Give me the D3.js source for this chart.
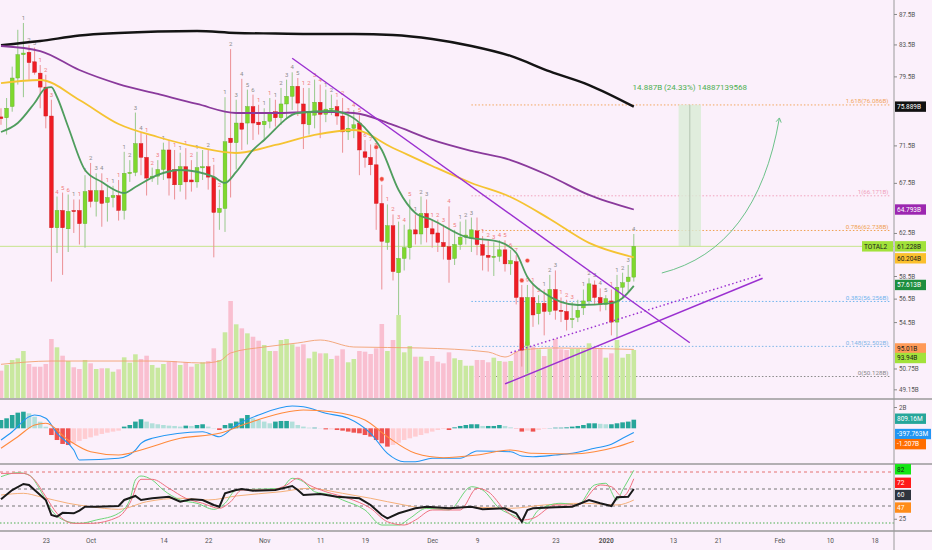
<!DOCTYPE html>
<html>
<head>
<meta charset="utf-8">
<script src="https://cdn.jsdelivr.net/npm/d3@7"></script>
<style>
html, body { margin: 0; padding: 0; background: #fbf0fb; }
svg { display: block; font-family: Roboto, "DejaVu Sans", sans-serif; }
</style>
</head>
<body>
<svg id="chart"></svg>
<script>
// ---- data (TOTAL2, billions USD, daily) ----
const firstDay = "2019-09-15";
const lastDay = "2020-01-06";

// [open, high, low, close]
const candles = [
  [74.7,75.7,73.8,74.5],[74.6,76.9,72.7,75.7],[75.9,80.7,75.3,79.3],[79.3,85.4,78.5,82.2],
  [82.2,86.3,77.0,82.4],[82.5,83.4,79.1,81.2],[81.3,83.1,79.7,80.0],[79.9,80.9,75.7,78.2],
  [78.2,79.7,73.4,74.8],[74.8,76.7,58.0,63.0],[63.0,66.1,60.6,64.7],[64.7,66.5,58.6,63.0],
  [62.9,66.3,60.7,64.6],[64.7,65.8,62.5,64.6],[64.7,65.8,61.4,63.4],[63.4,68.3,61.1,66.6],
  [66.7,69.6,65.0,65.6],[65.6,68.5,64.1,66.7],[66.7,68.5,63.1,65.4],[65.5,67.3,63.6,66.0],
  [66.0,67.2,65.0,66.2],[66.2,67.8,63.7,64.7],[64.7,70.8,63.8,68.5],[68.5,69.9,67.6,68.6],
  [68.6,75.2,68.2,71.7],[71.7,72.9,68.3,70.2],[70.2,72.7,66.2,68.0],[68.0,69.1,67.6,68.2],
  [68.2,69.9,67.3,68.9],[68.9,71.8,67.8,71.0],[71.0,72.1,66.2,68.0],[68.9,71.0,65.8,67.3],
  [67.3,70.7,66.6,69.2],[69.2,71.2,65.8,67.6],[67.8,69.9,66.6,67.6],[67.6,70.8,67.0,69.1],
  [69.1,71.0,67.8,69.2],[69.2,71.0,66.8,68.1],[68.1,69.4,60.2,64.5],[64.5,66.8,62.8,64.9],
  [64.9,77.0,62.6,71.9],[72.3,82.9,66.0,71.8],[71.8,76.7,68.9,74.0],[74.0,79.2,71.0,73.3],
  [74.0,77.9,71.6,75.9],[75.9,77.3,72.1,74.0],[74.1,76.1,72.7,73.8],[73.8,75.7,72.1,74.2],
  [74.2,76.9,73.4,75.2],[75.3,76.7,73.6,74.6],[74.6,78.1,73.8,76.2],[76.2,79.1,74.4,77.1],
  [77.1,80.0,75.5,78.3],[78.3,79.3,74.8,76.3],[76.2,78.1,71.1,73.9],[73.8,78.1,72.7,75.2],
  [74.9,79.1,73.4,76.4],[76.4,78.5,72.3,75.0],[75.0,77.9,74.1,75.6],[75.6,77.3,74.9,75.7],
  [75.9,76.7,73.8,74.8],[74.8,76.9,70.7,73.0],[73.0,74.9,72.1,73.4],[73.4,75.5,72.3,73.8],
  [74.0,74.9,68.3,71.0],[70.8,72.1,69.1,70.2],[70.2,71.6,68.3,69.4],[69.4,71.0,62.8,65.4],
  [65.4,67.3,57.3,61.7],[61.6,65.3,60.9,63.2],[63.2,64.3,58.1,58.9],[58.8,63.6,55.1,60.1],
  [60.1,63.3,59.0,61.1],[61.1,65.8,60.0,62.8],[62.8,64.3,61.4,62.4],[62.4,66.1,61.4,64.4],
  [64.4,65.8,61.6,63.0],[62.9,63.8,61.1,62.4],[62.5,63.8,60.7,61.6],[61.6,63.3,60.0,61.2],
  [61.2,65.1,57.9,60.0],[60.1,62.8,59.5,61.4],[61.4,63.6,60.9,62.1],[62.1,63.8,61.4,62.3],
  [62.0,64.0,60.7,62.8],[62.7,64.0,60.4,61.4],[61.4,62.2,59.0,60.4],[60.4,61.8,58.9,60.2],
  [60.2,61.6,58.5,60.3],[60.3,61.8,59.8,60.9],[60.9,61.8,58.9,59.6],[59.6,60.9,58.6,59.9],
  [59.8,60.4,56.0,56.6],[56.6,57.7,50.9,52.2],[52.6,57.7,50.4,56.6],[56.6,57.7,54.1,55.1],
  [55.2,56.8,54.3,56.1],[56.1,57.3,53.4,55.4],[55.4,58.6,55.1,57.3],[57.3,59.0,54.7,55.5],
  [55.5,56.6,54.5,55.4],[55.4,56.4,53.8,54.7],[54.7,56.2,54.0,54.8],[54.9,56.4,54.5,55.5],
  [55.7,57.3,55.1,56.3],[56.3,58.3,56.0,57.8],[57.7,58.1,56.0,56.6],[56.6,57.4,55.4,56.0],
  [56.0,56.8,55.5,56.5],[56.3,57.3,53.4,54.5],[54.5,58.6,53.2,57.5],[57.5,58.8,56.6,57.9],
  [58.0,59.5,57.1,58.4],[58.4,62.4,58.0,61.23]
];

const volumes = [
  54.3,65.2,74.8,78.0,92.0,67.1,61.9,61.9,67.1,115.0,99.1,83.0,72.8,60.8,57.5,74.8,
  68.4,57.5,58.9,58.9,52.3,56.9,79.9,69.6,85.7,76.7,83.0,65.2,60.0,67.1,71.5,72.8,
  65.2,70.4,61.9,67.1,70.4,72.8,97.2,74.8,127.9,187.9,143.2,135.5,125.9,119.4,111.8,103.5,
  92.0,92.0,113.1,115.0,104.9,100.3,104.9,78.0,90.7,87.6,87.6,76.7,83.0,95.3,70.4,76.7,
  92.0,90.7,86.3,97.2,143.8,92.0,113.1,161.0,89.5,101.6,81.1,81.1,72.8,82.4,71.5,68.4,
  89.5,78.0,74.8,63.8,63.8,74.8,74.8,70.4,79.2,72.8,71.5,72.8,90.7,106.8,109.8,100.3,
  95.3,82.4,95.9,115.0,95.3,93.9,95.9,95.9,95.3,106.8,97.2,97.2,79.2,87.6,113.1,79.2,
  86.3,93.94
];

// [day index from firstDay, value]
const volumeMA = [[0,66.5],[9,72.8],[28,72.8],[36,69.0],[39,72.8],[41,88.2],[47,99.7],[53,107.4],
  [57,113.1],[63,99.7],[75,97.8],[87,90.1],[90,80.5],[93,93.9],[99,97.8],[113,95.01]];

const ma200 = [[0,83.4],[7,83.94],[14,84.65],[21,84.98],[28,85.17],[35,85.24],[42,84.98],[49,84.91],
  [56,84.85],[63,84.85],[70,84.72],[77,84.2],[84,83.3],[91,82.04],[98,80.1],[105,78.45],[113,75.889]];
const ma100 = [[0,83.3],[7,82.66],[14,80.28],[21,78.57],[28,77.38],[35,76.2],[42,75.15],[49,75.15],
  [56,75.27],[63,75.15],[70,73.78],[77,72.1],[84,70.89],[91,69.91],[98,68.22],[105,66.26],[113,64.793]];
const ma50 = [[0,78.69],[7,79.06],[14,76.67],[21,73.89],[28,72.43],[35,71.33],[42,70.67],[49,71.55],
  [56,72.66],[63,73.21],[70,71.22],[77,69.27],[84,67.49],[91,66.05],[98,63.86],[105,61.55],[113,60.204]];
const ema10 = [[0,72.99],[3,74.01],[6,76.32],[8,78.09],[9,78.21],[10,77.02],[12,73.55],[15,68.85],
  [18,67.59],[22,66.46],[24,67.07],[28,68.33],[32,68.85],[38,68.12],[40,67.49],[42,68.64],[45,71.0],
  [47,72.1],[53,75.15],[59,75.38],[62,74.92],[65,73.44],[68,71.0],[71,66.76],[74,64.45],[77,63.76],
  [83,62.12],[89,61.64],[92,60.6],[94,58.41],[97,56.99],[103,55.95],[109,56.12],[111,56.56],[113,57.613]];

const macdLine = [[0,-1.10],[2,-0.32],[5,1.09],[6,1.25],[8,0.94],[10,-0.47],[13,-2.04],[14,-2.98],
  [21,-2.82],[24,-2.04],[25,-1.41],[27,-0.94],[36,-0.32],[39,-0.79],[42,0.31],[46,1.25],[52,2.09],
  [54,2.03],[58,1.41],[62,0.94],[66,-0.47],[69,-2.35],[72,-3.14],[74,-3.14],[77,-2.82],[82,-2.82],
  [85,-2.13],[91,-2.20],[93,-2.60],[95,-2.67],[99,-2.51],[102,-2.35],[106,-1.88],[109,-1.50],
  [111,-0.94],[113,-0.398]];
const signalLine = [[0,-1.88],[3,-0.79],[6,0.31],[8,0.47],[12,-1.10],[16,-2.20],[21,-2.51],[25,-2.04],
  [32,-0.94],[39,-0.47],[44,0.47],[50,1.41],[54,1.72],[59,1.56],[65,0.78],[69,-0.79],[74,-2.35],
  [79,-2.76],[85,-2.51],[91,-2.04],[95,-2.35],[102,-2.41],[106,-2.20],[110,-1.73],[113,-1.207]];
const macdHist = [
  0.78,0.94,1.25,1.47,1.56,1.41,1.09,0.62,0.15,-0.63,-1.10,-1.47,-1.57,-1.41,-1.19,-1.00,
  -0.85,-0.69,-0.53,-0.41,-0.31,-0.22,0.16,0.31,0.63,0.85,0.63,0.47,0.38,0.31,0.25,0.22,
  0.16,0.25,0.22,0.31,0.38,0.16,0.03,-0.16,0.31,0.47,0.63,0.94,1.25,0.94,0.78,0.63,
  0.47,0.63,0.69,0.69,0.63,0.31,0.16,0.06,0.06,0.02,-0.10,-0.10,-0.16,-0.22,-0.31,-0.41,
  -0.47,-0.63,-0.78,-1.10,-1.41,-1.72,-1.57,-1.35,-1.10,-0.94,-0.78,-0.63,-0.47,-0.31,-0.16,-0.06,
  -0.16,0.09,0.22,0.31,0.38,0.38,0.22,0.22,0.22,0.31,0.22,0.09,-0.02,-0.31,-0.22,-0.31,
  -0.16,-0.06,0.02,0.06,0.06,0.09,0.16,0.22,0.31,0.47,0.47,0.42,0.38,0.38,0.47,0.56,
  0.63,0.81
];

const rsiBlack = [[0,47.9],[2,58.8],[4,65.9],[5,64.7],[6,58.8],[8,47.1],[9,29.4],[10,27.5],[11,32],
  [13,31.4],[14,34.5],[15,39.2],[17,39.2],[21,40],[22,47.1],[24,51.8],[25,47.1],[27,49.1],[30,50.9],
  [32,45],[34,47.9],[36,47.1],[38,41.2],[39,39.2],[40,54.9],[42,58.8],[43,60],[45,58],[49,58.8],
  [52,63.5],[53,58.8],[54,52.9],[57,54.1],[60,50.9],[64,49],[66,41.2],[68,29.4],[69,25.5],[71,31.4],
  [74,37.3],[76,39.2],[80,37.3],[84,39.2],[86,36.1],[90,37.3],[92,31.4],[93,21.5],[94,35.3],
  [95,37.3],[99,38.5],[102,39.2],[105,47.1],[107,43.2],[109,40],[110,50.2],[112,50.9],[113,60]];
const rsiGreen = [[0,74.5],[3,79.2],[5,76.5],[7,58.8],[9,35.3],[12,21.5],[14,19.6],[17,23.5],[21,31.4],
  [23,47.1],[24,70.6],[25,75.3],[27,70.6],[29,58.8],[32,47.1],[35,43.2],[38,36.1],[40,43.2],[42,58.8],
  [45,59.6],[50,60.8],[52,72.6],[54,68.6],[56,56.8],[59,52.9],[61,47.1],[65,35.3],[68,17.6],[71,17.6],
  [73,25.5],[76,37.3],[80,35.3],[84,62.7],[86,58.8],[89,37.3],[92,27.4],[94,19.6],[96,35.3],[100,43.2],
  [103,41.2],[106,64.7],[108,66.7],[110,47.1],[111,58.8],[113,82]];
const rsiRed = [[0,78.4],[4,78.4],[6,70.6],[8,50.9],[10,31.4],[13,19.6],[16,19.6],[21,27.4],[23,43.2],
  [25,71.4],[27,71.4],[30,60.8],[33,49.1],[36,43.2],[39,37.3],[41,45],[43,58.8],[48,58.8],[51,64.7],
  [53,72.6],[55,64.7],[58,56.8],[62,49.1],[66,37.3],[69,21.5],[72,17.6],[74,23.5],[77,35.3],[82,35.3],
  [85,60.8],[87,56.8],[90,35.3],[93,23.5],[95,25.5],[99,41.2],[103,41.2],[107,64.7],[109,62.7],
  [111,50.9],[113,72]];
const rsiOrange = [[0,52.9],[4,54.9],[7,50.9],[12,43.2],[16,39.2],[21,36.1],[26,45],[32,49.1],[37,47.1],
  [42,51.8],[50,56.8],[55,60.8],[61,54.9],[66,49.1],[72,41.2],[76,37.3],[85,38.5],[91,37.3],[97,41.2],
  [104,43.2],[110,41.2],[113,47]];
const rsiLevels = [80, 60, 40, 20];

// drawings: [date, price]
const fallingLine = [["2019-11-06",81.74],["2020-01-16",52.8]];
const risingLine = [["2019-12-14",49.56],["2020-01-29",58.3]];
const risingDotted = [["2019-12-15",52.0],["2020-01-29",58.65]];
const fibStart = "2019-12-08", fibEnd = "2020-02-21";
const fibValues = [76.0868, 66.1718, 62.7388, 56.2568, 52.5028, 50.1288];
const fibLabels = ["1.618(76.086B)","1(66.171B)","0.786(62.738B)","0.382(56.256B)","0.148(52.502B)","0(50.128B)"];
const projFrom = "2020-01-14", projMid = "2020-01-16", projTo = "2020-01-18";
const projLow = 61.228, projHigh = 76.115;
const projText = "14.887B (24.33%) 14887139568";
const arrowPts = [["2020-01-11",58.77],["2020-01-28",61.0],["2020-02-01",74.58]];
const redDots = [["2019-11-21",71.3],["2019-11-22",67.9],["2019-12-17",58.1],["2019-12-18",59.9]];

const priceTicks = [87.5,83.5,79.5,71.5,67.5,62.5,58.5,56.5,54.5,50.75,49.15];
const tickDates = ["2019-09-23","2019-10-01","2019-10-14","2019-10-22","2019-11-01","2019-11-11",
  "2019-11-19","2019-12-01","2019-12-09","2019-12-23","2020-01-01","2020-01-13","2020-01-21",
  "2020-02-01","2020-02-10","2020-02-18"];
const tickLabels = ["23","Oct","14","22","Nov","11","19","Dec","9","23","2020","13","21","Feb","10","18"];

// ---- layout ----
const W = 932, H = 550, axisX = 894;
const main = {top: 0, bottom: 398};
const macdPane = {top: 400, bottom: 463};
const rsiPane = {top: 465, bottom: 531};

const parse = d3.utcParse("%Y-%m-%d");
const days = d3.utcDay.range(parse(firstDay), d3.utcDay.offset(parse(lastDay), 1));

const svg = d3.select("#chart").attr("width", W).attr("height", H);
svg.append("rect").attr("width", W).attr("height", H).attr("fill", "#fbf0fb");

const x = d3.scaleUtc()
  .domain([parse("2019-09-23"), parse("2020-02-18")])
  .range([45.8, 874.6]);
const y = d3.scaleLog().domain([48.5, 89.4]).range([main.bottom, main.top]);
const yVol = d3.scaleLinear().domain([0, 765]).range([399, 0]);
const yMacd = d3.scaleLinear().domain([-3.26, 2.66]).range([macdPane.bottom, macdPane.top]);
const yRsi = d3.scaleLinear().domain([10.59, 88.24]).range([rsiPane.bottom, rsiPane.top]);

const defs = svg.append("defs");
[["clipMain", main], ["clipMacd", macdPane], ["clipRsi", rsiPane]].forEach(([id, p]) => {
  defs.append("clipPath").attr("id", id).append("rect")
    .attr("x", 0).attr("y", p.top).attr("width", axisX).attr("height", p.bottom - p.top);
});

const gMain = svg.append("g").attr("clip-path", "url(#clipMain)");
const gMacd = svg.append("g").attr("clip-path", "url(#clipMacd)");
const gRsi = svg.append("g").attr("clip-path", "url(#clipRsi)");

const px = d => x(typeof d === "string" ? parse(d) : d);
const line = (ys, curve) => d3.line().x(d => x(days[d[0]])).y(d => ys(d[1])).curve(curve || d3.curveMonotoneX);

// fib levels
const fibColors = ["#f2a65e", "#f0a3bd", "#f0a050", "#6fb4ee", "#7fb6e8", "#8a8a8a"];
fibValues.forEach((v, i) => {
  gMain.append("line")
    .attr("x1", px(fibStart)).attr("x2", px(fibEnd))
    .attr("y1", y(v)).attr("y2", y(v))
    .attr("stroke", fibColors[i]).attr("stroke-width", 1).attr("stroke-dasharray", "1.5,2");
  gMain.append("text")
    .attr("x", px(fibEnd) - 3).attr("y", y(v) - 1.5)
    .attr("text-anchor", "end").attr("font-size", 6.2)
    .attr("fill", fibColors[i]).text(fibLabels[i]);
});

// projection box
gMain.append("rect")
  .attr("x", px(projFrom)).attr("width", px(projTo) - px(projFrom))
  .attr("y", y(projHigh)).attr("height", y(projLow) - y(projHigh))
  .attr("fill", "#d9ecd6").attr("opacity", 0.8);
gMain.append("line")
  .attr("x1", px(projMid)).attr("x2", px(projMid))
  .attr("y1", y(projHigh)).attr("y2", y(projLow))
  .attr("stroke", "#a9b9a6").attr("stroke-width", 0.8);
svg.append("text")
  .attr("x", px(projMid)).attr("y", y(projHigh) - 15)
  .attr("text-anchor", "middle").attr("font-size", 8).attr("fill", "#4caf50")
  .text(projText);

// volume
const bw = 4.6;
gMain.selectAll("rect.vol").data(volumes).join("rect")
  .attr("class", "vol")
  .attr("x", (d, i) => x(days[i]) - bw / 2).attr("width", bw)
  .attr("y", d => yVol(d)).attr("height", d => yVol(0) - yVol(d))
  .attr("fill", (d, i) => candles[i][3] >= candles[i][0] ? "#c9e89f" : "#f9bfd0");
gMain.append("path").datum(volumeMA)
  .attr("d", line(yVol)).attr("fill", "none").attr("stroke", "#f2a070").attr("stroke-width", 0.9);

// current price line
gMain.append("line")
  .attr("x1", 0).attr("x2", axisX).attr("y1", y(61.228)).attr("y2", y(61.228))
  .attr("stroke", "#c6e48c").attr("stroke-width", 1);

// candles
const cw = 3.8;
const gc = gMain.append("g");
candles.forEach((c, i) => {
  const [o, h, l, cl] = c;
  const up = cl >= o;
  const cx = x(days[i]);
  gc.append("line").attr("x1", cx).attr("x2", cx).attr("y1", y(h)).attr("y2", y(l))
    .attr("stroke", up ? "#98c98c" : "#ec8f94").attr("stroke-width", 1);
  const top = y(Math.max(o, cl)), bot = y(Math.min(o, cl));
  gc.append("rect").attr("x", cx - cw / 2).attr("width", cw)
    .attr("y", top).attr("height", Math.max(1.2, bot - top))
    .attr("fill", up ? "#7fd82e" : "#ee1c24")
    .attr("stroke", up ? "#5fae2a" : "#c81a1a").attr("stroke-width", 0.4);
});

// setup counts above the bars (close against the close four bars back)
let upCount = 0, downCount = 0;
candles.forEach((c, i) => {
  if (i < 4) return;
  const prev = candles[i - 4][3];
  let n = 0, col = null;
  if (c[3] > prev) { upCount = upCount % 9 + 1; downCount = 0; n = upCount; col = "#8c8c8c"; }
  else if (c[3] < prev) { downCount = downCount % 9 + 1; upCount = 0; n = downCount; col = "#f07c7c"; }
  if (!n) return;
  gMain.append("text").attr("x", x(days[i])).attr("y", y(c[1]) - 3)
    .attr("text-anchor", "middle").attr("font-size", 6).attr("fill", col).text(n);
});

// moving averages
[[ma200, "#141414", 2.4], [ma100, "#8a3a9c", 1.8], [ma50, "#f5c332", 1.8], [ema10, "#4f9d5e", 1.8]]
  .forEach(([s, col, w]) => {
    gMain.append("path").datum(s).attr("d", line(y))
      .attr("fill", "none").attr("stroke", col).attr("stroke-width", w);
  });

// red dots
redDots.forEach(d => {
  gMain.append("circle").attr("cx", px(d[0])).attr("cy", y(d[1])).attr("r", 2.2)
    .attr("fill", "#f0463c").attr("stroke", "#ffd0d0").attr("stroke-width", 0.5);
});

// trend lines
const seg = (pts, dash, w) => gMain.append("line")
  .attr("x1", px(pts[0][0])).attr("y1", y(pts[0][1]))
  .attr("x2", px(pts[1][0])).attr("y2", y(pts[1][1]))
  .attr("stroke", "#9b30d0").attr("stroke-width", w)
  .attr("stroke-dasharray", dash);
seg(fallingLine, null, 1.4);
seg(risingLine, null, 1.4);
seg(risingDotted, "1.5,2.5", 1.4);

// curved arrow
const [a0, a1, a2] = arrowPts.map(p => [px(p[0]), y(p[1])]);
const pathArrow = d3.path();
pathArrow.moveTo(a0[0], a0[1]);
pathArrow.quadraticCurveTo(a1[0], a1[1], a2[0], a2[1]);
gMain.append("path").attr("d", pathArrow.toString())
  .attr("fill", "none").attr("stroke", "#6cc28a").attr("stroke-width", 1);
const ang = Math.atan2(a2[1] - a1[1], a2[0] - a1[0]);
[ang + 2.6, ang - 2.6].forEach(a => {
  gMain.append("line").attr("x1", a2[0]).attr("y1", a2[1])
    .attr("x2", a2[0] + 5 * Math.cos(a)).attr("y2", a2[1] + 5 * Math.sin(a))
    .attr("stroke", "#6cc28a").attr("stroke-width", 1);
});

// ---- MACD pane ----
gMacd.selectAll("rect").data(macdHist).join("rect")
  .attr("x", (d, i) => x(days[i]) - bw / 2).attr("width", bw)
  .attr("y", d => Math.min(yMacd(d), yMacd(0)))
  .attr("height", d => Math.abs(yMacd(d) - yMacd(0)))
  .attr("fill", (d, i) => {
    const prev = i > 0 ? macdHist[i - 1] : d;
    if (d >= 0) return d >= prev ? "#26a69a" : "#b2dfdb";
    return d < prev ? "#ef5350" : "#ffcdd2";
  });
gMacd.append("path").datum(macdLine).attr("d", line(yMacd))
  .attr("fill", "none").attr("stroke", "#2196f3").attr("stroke-width", 1.1);
gMacd.append("path").datum(signalLine).attr("d", line(yMacd))
  .attr("fill", "none").attr("stroke", "#ff8a3c").attr("stroke-width", 1.1);

// ---- RSI pane ----
const levelStyle = [["#e57373", "3,3"], ["#777", "3,3"], ["#777", "3,3"], ["#4caf50", "1.5,2"]];
rsiLevels.forEach((v, i) => {
  gRsi.append("line").attr("x1", 0).attr("x2", axisX)
    .attr("y1", yRsi(v)).attr("y2", yRsi(v))
    .attr("stroke", levelStyle[i][0]).attr("stroke-width", 1)
    .attr("stroke-dasharray", levelStyle[i][1]);
});
gRsi.append("path").datum(rsiOrange).attr("d", line(yRsi))
  .attr("fill", "none").attr("stroke", "#f5b07a").attr("stroke-width", 1);
gRsi.append("path").datum(rsiGreen).attr("d", line(yRsi))
  .attr("fill", "none").attr("stroke", "#6fd67a").attr("stroke-width", 1);
gRsi.append("path").datum(rsiRed).attr("d", line(yRsi))
  .attr("fill", "none").attr("stroke", "#f07080").attr("stroke-width", 1);
gRsi.append("path").datum(rsiBlack).attr("d", line(yRsi, d3.curveLinear))
  .attr("fill", "none").attr("stroke", "#1a1a1a").attr("stroke-width", 2);

// ---- frames ----
[main.bottom + 1, macdPane.bottom + 1, rsiPane.bottom].forEach(yy => {
  svg.append("line").attr("x1", 0).attr("x2", W).attr("y1", yy).attr("y2", yy)
    .attr("stroke", "#9a9a9a").attr("stroke-width", 1.4);
});
svg.append("line").attr("x1", axisX).attr("x2", axisX).attr("y1", 0).attr("y2", H)
  .attr("stroke", "#9a9a9a").attr("stroke-width", 1);

// ---- axes ----
const fmtB = d => d + "B";
svg.append("g").attr("transform", `translate(${axisX},0)`)
  .call(d3.axisRight(y).tickValues(priceTicks).tickFormat(fmtB).tickSize(3));
svg.append("g").attr("transform", `translate(${axisX},0)`)
  .call(d3.axisRight(yMacd).tickValues([2]).tickFormat(fmtB).tickSize(3));
svg.append("g").attr("transform", `translate(${axisX},0)`)
  .call(d3.axisRight(yRsi).tickValues([25]).tickSize(3));
svg.selectAll(".domain").remove();
svg.selectAll(".tick line").attr("stroke", "#888");
svg.selectAll(".tick text").attr("font-size", 6.3).attr("fill", "#555")
  .attr("font-family", "Roboto, sans-serif").attr("x", 5);

const xAxis = svg.append("g").attr("transform", `translate(0,${rsiPane.bottom + 4})`)
  .call(d3.axisBottom(x).tickValues(tickDates.map(parse))
    .tickFormat((d, i) => tickLabels[i]).tickSize(0));
xAxis.select(".domain").remove();
xAxis.selectAll("text").attr("font-size", 6.5).attr("fill", "#555")
  .attr("font-family", "Roboto, sans-serif")
  .attr("font-weight", (d, i) => tickLabels[i] === "2020" ? "bold" : null);

// ---- price labels ----
function tag(yy, text, bg, fg, x0, w) {
  x0 = x0 || axisX + 1; w = w || 31;
  svg.append("rect").attr("x", x0).attr("y", yy - 5.2).attr("width", w).attr("height", 10.4)
    .attr("fill", bg);
  svg.append("text").attr("x", x0 + 2).attr("y", yy + 2.3)
    .attr("font-size", 6.5).attr("fill", fg).text(text);
}
tag(y(75.889), "75.889B", "#111111", "#ffffff");
tag(y(64.793), "64.793B", "#9c27b0", "#ffffff");
tag(y(61.228), "61.228B", "#a2e23a", "#1a1a1a");
tag(y(61.228), "TOTAL2", "#a2e23a", "#1a1a1a", axisX - 32, 31);
tag(y(60.204) + 1, "60.204B", "#fbc02d", "#1a1a1a");
tag(y(57.613) - 1, "57.613B", "#1e8e3e", "#ffffff");
tag(yVol(95.01) - 1, "95.01B", "#ff9a57", "#1a1a1a");
tag(yVol(93.94) + 8, "93.94B", "#a2e23a", "#1a1a1a");
tag(yMacd(0.809) - 1, "809.16M", "#26a69a", "#ffffff");
tag(yMacd(-0.398) + 1.5, "-397.763M", "#2196f3", "#ffffff", axisX + 1, 36);
tag(yMacd(-1.207) + 3, "-1.207B", "#ff6d00", "#ffffff");
tag(yRsi(82) - 1, "82", "#14e614", "#1a1a1a", axisX + 1, 16);
tag(yRsi(72) + 4, "72", "#ff1a1a", "#ffffff", axisX + 1, 16);
tag(yRsi(60) + 6, "60", "#2f343e", "#ffffff", axisX + 1, 16);
tag(yRsi(47) + 7.5, "47", "#ff8c1a", "#ffffff", axisX + 1, 16);
</script>
</body>
</html>
